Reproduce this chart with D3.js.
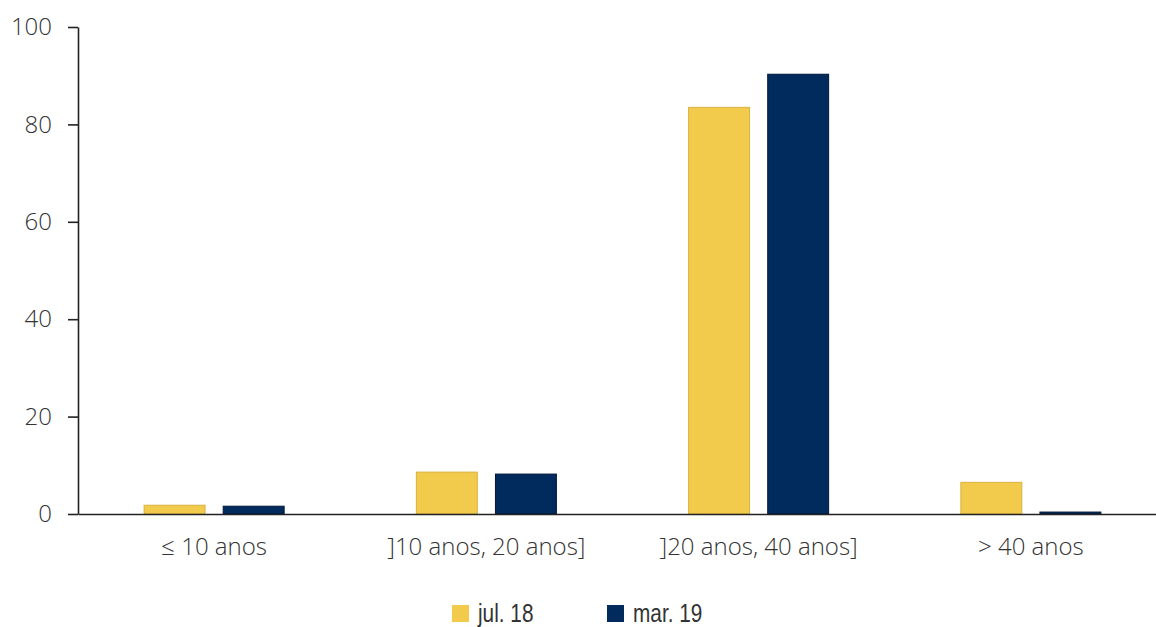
<!DOCTYPE html>
<html>
<head>
<meta charset="utf-8">
<script src="https://cdn.jsdelivr.net/npm/d3@7"></script>
<style>
  html, body { margin: 0; padding: 0; background: #fff; }
  svg { display: block; }
</style>
</head>
<body>
<svg id="chart" width="1156" height="627"></svg>
<script>
// Age brackets and the share (%) in each, for two dates
const categories = ["≤ 10 anos", "]10 anos, 20 anos]", "]20 anos, 40 anos]", "> 40 anos"];
const seriesNames = ["jul. 18", "mar. 19"];
const jul18 = [1.8, 8.6, 83.5, 6.5];
const mar19 = [1.6, 8.2, 90.3, 0.4];
const yTicks = [0, 20, 40, 60, 80, 100];

const colors = { "jul. 18": "#F3CB4C", "mar. 19": "#012A5D" };
const strokes = { "jul. 18": "#D8B13F", "mar. 19": "#00183A" };

const svg = d3.select("#chart");
const plotLeft = 78, plotRight = 1167, plotTop = 27, plotBottom = 514;

const x0 = d3.scaleBand().domain(categories).range([plotLeft, plotRight])
  .paddingInner(0.482).paddingOuter(0.241);
const x1 = d3.scaleBand().domain(seriesNames).range([0, x0.bandwidth()])
  .paddingInner(0.217);
const y = d3.scaleLinear().domain([0, 100]).range([plotBottom, plotTop]);

const rows = categories.map((c, i) => ({
  cat: c,
  values: [{ key: "jul. 18", v: jul18[i] }, { key: "mar. 19", v: mar19[i] }]
}));

// Bars
const groups = svg.append("g").selectAll("g").data(rows).join("g")
  .attr("transform", d => `translate(${x0(d.cat)},0)`);
groups.selectAll("rect").data(d => d.values).join("rect")
  .attr("x", d => x1(d.key) + 0.5)
  .attr("width", x1.bandwidth() - 1)
  .attr("y", d => y(d.v))
  .attr("height", d => y(0) - y(d.v))
  .attr("fill", d => colors[d.key])
  .attr("stroke", d => strokes[d.key])
  .attr("stroke-width", 1);

const labelFont = "'Open Sans', sans-serif";

// Y axis
const yAxis = svg.append("g").attr("transform", `translate(${plotLeft},0)`)
  .call(d3.axisLeft(y).tickValues(yTicks).tickSize(10).tickPadding(16).tickSizeOuter(0));
yAxis.select(".domain").attr("stroke", "#222").attr("stroke-width", 1.6);
yAxis.selectAll(".tick line").attr("stroke", "#222").attr("stroke-width", 1.6);
yAxis.selectAll(".tick text")
  .attr("font-family", labelFont)
  .attr("font-weight", 300)
  .attr("font-size", 24)
  .attr("fill", "#333");

// X axis (baseline at zero)
const xAxis = svg.append("g").attr("transform", `translate(0,${y(0)})`)
  .call(d3.axisBottom(x0).tickSize(0).tickPadding(24).tickSizeOuter(0));
xAxis.select(".domain").attr("stroke", "#222").attr("stroke-width", 1.6);
xAxis.selectAll(".tick text")
  .attr("font-family", labelFont)
  .attr("font-weight", 300)
  .attr("font-size", 24)
  .attr("fill", "#333");

// Legend (condensed lettering)
const legendPos = [452, 607];
const legend = svg.append("g").selectAll("g").data(seriesNames).join("g")
  .attr("transform", (d, i) => `translate(${legendPos[i]},605)`);
legend.append("rect")
  .attr("width", 17).attr("height", 17)
  .attr("fill", d => colors[d]);
legend.append("text")
  .attr("transform", "translate(26,17) scale(0.8,1)")
  .attr("font-family", "'Liberation Sans', Arial, sans-serif")
  .attr("font-size", 26)
  .attr("fill", "#333")
  .text(d => d);
</script>
</body>
</html>
